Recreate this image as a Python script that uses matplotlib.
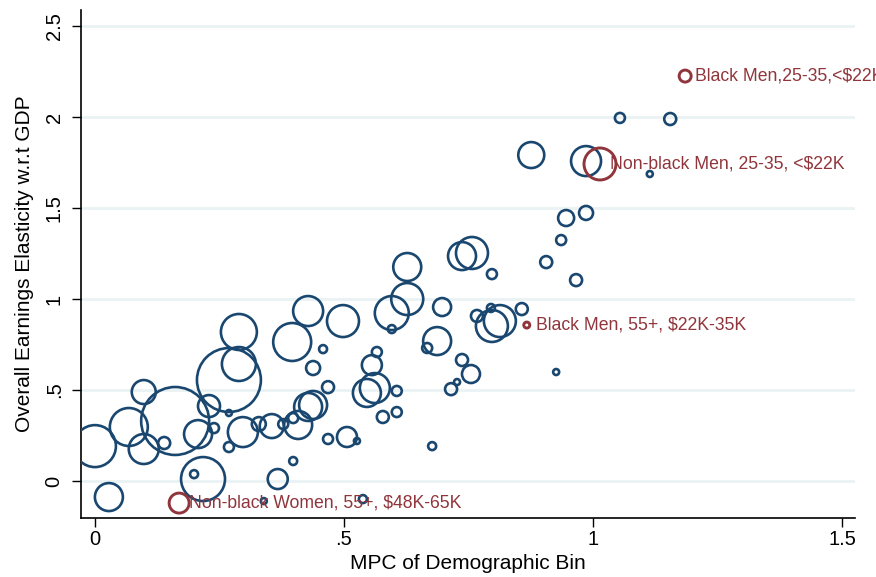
import matplotlib.pyplot as plt

# MPC (x), earnings elasticity (y) and bin weight for each demographic bin
mpc = [0.000, 0.028, 0.068, 0.098, 0.098, 0.161, 0.139, 0.207, 0.229, 0.239,
       0.269, 0.269, 0.269, 0.289, 0.289, 0.297, 0.217, 0.199, 0.367, 0.398,
       0.329, 0.355, 0.378, 0.398, 0.408, 0.428, 0.438, 0.468, 0.506, 0.526,
       0.339, 0.538, 0.428, 0.498, 0.396, 0.458, 0.438, 0.468, 0.546, 0.562,
       0.556, 0.566, 0.606, 0.606, 0.578, 0.677, 0.627, 0.627, 0.596, 0.596,
       0.697, 0.687, 0.667, 0.737, 0.755, 0.727, 0.715, 0.737, 0.757, 0.797,
       0.906, 0.936, 0.966, 0.926, 0.767, 0.795, 0.797, 0.813, 0.857, 0.876,
       0.986, 0.946, 0.986, 1.054, 1.155, 1.114]
elasticity = [0.192, -0.088, 0.297, 0.489, 0.176, 0.330, 0.209, 0.258, 0.412, 0.291,
              0.187, 0.374, 0.555, 0.819, 0.643, 0.269, 0.011, 0.038, 0.011, 0.110,
              0.313, 0.302, 0.313, 0.346, 0.308, 0.407, 0.418, 0.231, 0.242, 0.220,
              -0.110, -0.099, 0.934, 0.879, 0.764, 0.725, 0.621, 0.516, 0.484, 0.511,
              0.637, 0.709, 0.495, 0.379, 0.352, 0.192, 1.176, 1.000, 0.923, 0.835,
              0.956, 0.769, 0.731, 0.665, 0.588, 0.544, 0.505, 1.236, 1.253, 1.137,
              1.203, 1.324, 1.104, 0.599, 0.907, 0.951, 0.852, 0.879, 0.945, 1.791,
              1.758, 1.445, 1.473, 1.995, 1.989, 1.687]
weight = [4.41, 1.96, 3.61, 1.44, 2.25, 11.56, 0.36, 1.96, 1.21, 0.25,
          0.25, 0.09, 10.24, 3.24, 2.89, 2.25, 4.84, 0.16, 1.00, 0.16,
          0.49, 1.44, 0.25, 0.25, 1.96, 1.96, 1.96, 0.25, 1.00, 0.09,
          0.09, 0.16, 2.25, 2.56, 3.61, 0.16, 0.49, 0.36, 1.96, 2.25,
          1.00, 0.25, 0.25, 0.25, 0.36, 0.16, 1.96, 2.56, 2.89, 0.16,
          0.81, 1.96, 0.25, 0.36, 0.81, 0.09, 0.36, 1.96, 2.56, 0.25,
          0.36, 0.25, 0.36, 0.09, 0.36, 0.16, 2.56, 2.56, 0.36, 1.69,
          2.25, 0.64, 0.49, 0.25, 0.36, 0.09]

# highlighted bins
hl_names = ["Non-black Women, 55+, $48K-65K", "Black Men, 55+, $22K-35K",
            "Non-black Men, 25-35, <$22K", "Black Men,25-35,<$22K"]
hl_mpc = [0.169, 0.867, 1.014, 1.185]
hl_elasticity = [-0.121, 0.857, 1.742, 2.225]
hl_weight = [1.00, 0.09, 2.56, 0.36]

x_ticks = [0, 0.5, 1, 1.5]
x_ticklabels = ["0", ".5", "1", "1.5"]
y_ticks = [0, 0.5, 1, 1.5, 2, 2.5]
y_ticklabels = ["0", ".5", "1", "1.5", "2", "2.5"]

navy = "#1a476f"
maroon = "#90353b"
plt.rcParams['font.family'] = ['Liberation Sans', 'DejaVu Sans']

fig = plt.figure(figsize=(8.76, 5.77), dpi=100)
ax = fig.add_axes([81 / 876, 1 - 518 / 577, 774 / 876, 508 / 577])

scale = 207.0  # weight -> marker area (pt^2)
ax.scatter(mpc, elasticity, s=[w * scale for w in weight], facecolors='none',
           edgecolors=navy, linewidths=1.9, zorder=3)
ax.scatter(hl_mpc, hl_elasticity, s=[w * scale for w in hl_weight],
           facecolors='none', edgecolors=maroon, linewidths=2.1, zorder=4)
for name, x, y in zip(hl_names, hl_mpc, hl_elasticity):
    ax.annotate(name, (x, y), xytext=(7, 0), textcoords='offset points',
                va='center', ha='left', fontsize=12.7, color=maroon,
                zorder=5, annotation_clip=False)

ax.set_xlim(-0.028, 1.526)
ax.set_ylim(-0.203, 2.588)
ax.set_xticks(x_ticks)
ax.set_xticklabels(x_ticklabels)
ax.set_yticks(y_ticks)
ax.set_yticklabels(y_ticklabels, rotation=90, va='center')
ax.tick_params(axis='both', labelsize=14.5, length=6.5, width=1, colors='black')
ax.tick_params(axis='x', pad=2)
ax.tick_params(axis='y', pad=6)

ax.grid(axis='y', color='#eaf2f3', linewidth=2)
ax.set_axisbelow(True)
for side in ['top', 'right']:
    ax.spines[side].set_visible(False)
for side in ['left', 'bottom']:
    ax.spines[side].set_linewidth(1.2)

ax.set_xlabel("MPC of Demographic Bin", fontsize=15, labelpad=4)
ax.set_ylabel("Overall Earnings Elasticity w.r.t GDP", fontsize=15, labelpad=8)

fig.savefig('out.png', dpi=100)
